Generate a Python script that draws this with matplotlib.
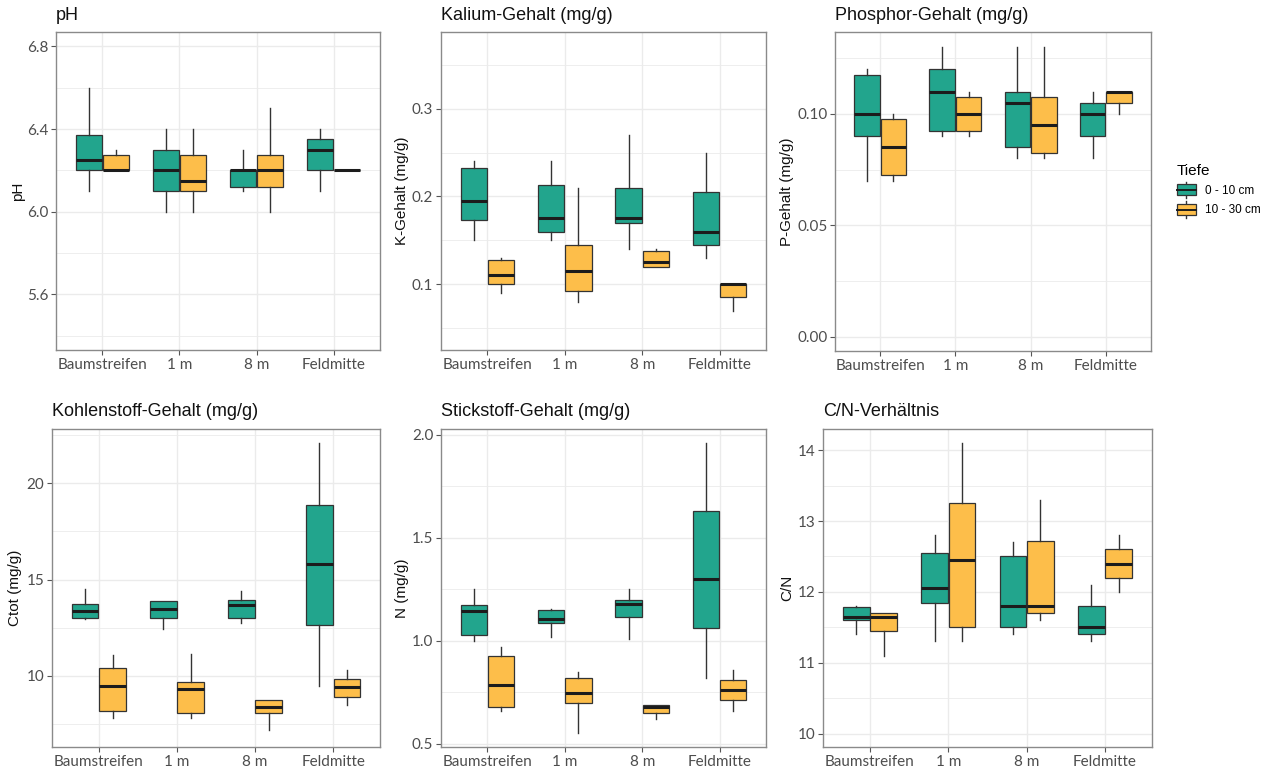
import matplotlib
matplotlib.use("Agg")
import matplotlib.pyplot as plt
from matplotlib.legend_handler import HandlerBase
from matplotlib.patches import Rectangle, Patch
from matplotlib.lines import Line2D
import numpy as np

plt.rcParams['font.family'] = ['Liberation Sans', 'DejaVu Sans']

categories = ["Baumstreifen", "1 m", "8 m", "Feldmitte"]
depths = ["0 - 10 cm", "10 - 30 cm"]
colors = ["#22A58D", "#FDBE4A"]

# each entry: (whisker low, Q1, median, Q3, whisker high)
ph_0_10 = [(6.1, 6.2, 6.25, 6.37, 6.6), (6.0, 6.1, 6.2, 6.3, 6.4),
           (6.1, 6.12, 6.2, 6.2, 6.3), (6.1, 6.2, 6.3, 6.35, 6.4)]
ph_10_30 = [(6.2, 6.2, 6.2, 6.275, 6.3), (6.0, 6.1, 6.15, 6.275, 6.4),
            (6.0, 6.12, 6.2, 6.275, 6.5), (6.2, 6.2, 6.2, 6.2, 6.2)]
k_0_10 = [(0.15, 0.173, 0.195, 0.233, 0.24), (0.15, 0.16, 0.175, 0.213, 0.24),
          (0.14, 0.17, 0.175, 0.21, 0.27), (0.13, 0.145, 0.16, 0.205, 0.25)]
k_10_30 = [(0.09, 0.1, 0.11, 0.128, 0.13), (0.08, 0.0925, 0.115, 0.145, 0.21),
           (0.12, 0.12, 0.125, 0.1375, 0.14), (0.07, 0.085, 0.1, 0.1, 0.1)]
p_0_10 = [(0.07, 0.09, 0.10, 0.1175, 0.12), (0.09, 0.0925, 0.11, 0.12, 0.13),
          (0.08, 0.085, 0.105, 0.11, 0.13), (0.08, 0.09, 0.10, 0.105, 0.11)]
p_10_30 = [(0.07, 0.0725, 0.085, 0.0975, 0.10), (0.09, 0.0925, 0.10, 0.1075, 0.11),
           (0.08, 0.0825, 0.095, 0.1075, 0.13), (0.10, 0.105, 0.11, 0.11, 0.11)]
c_0_10 = [(12.95, 13.0, 13.35, 13.75, 14.5), (12.45, 13.0, 13.45, 13.9, 13.9),
          (12.75, 13.0, 13.7, 13.95, 14.4), (9.5, 12.65, 15.8, 18.9, 22.1)]
c_10_30 = [(7.8, 8.2, 9.5, 10.4, 11.1), (7.8, 8.1, 9.3, 9.7, 11.15),
           (7.2, 8.05, 8.4, 8.75, 8.75), (8.5, 8.9, 9.4, 9.85, 10.3)]
n_0_10 = [(1.0, 1.03, 1.145, 1.175, 1.25), (1.02, 1.085, 1.105, 1.15, 1.155),
          (1.01, 1.115, 1.18, 1.2, 1.25), (0.82, 1.06, 1.3, 1.63, 1.96)]
n_10_30 = [(0.66, 0.68, 0.785, 0.925, 0.97), (0.55, 0.70, 0.745, 0.82, 0.85),
           (0.62, 0.65, 0.68, 0.69, 0.69), (0.66, 0.71, 0.76, 0.81, 0.86)]
cn_0_10 = [(11.4, 11.6, 11.65, 11.78, 11.8), (11.3, 11.85, 12.05, 12.55, 12.8),
           (11.4, 11.5, 11.8, 12.5, 12.7), (11.3, 11.4, 11.5, 11.8, 12.1)]
cn_10_30 = [(11.1, 11.45, 11.65, 11.7, 11.7), (11.3, 11.5, 12.45, 13.25, 14.1),
            (11.6, 11.7, 11.8, 12.72, 13.3), (12.0, 12.2, 12.4, 12.6, 12.8)]

titles = ["pH", "Kalium-Gehalt (mg/g)", "Phosphor-Gehalt (mg/g)",
          "Kohlenstoff-Gehalt (mg/g)", "Stickstoff-Gehalt (mg/g)", "C/N-Verhältnis"]
ylabels = ["pH", "K-Gehalt (mg/g)", "P-Gehalt (mg/g)", "Ctot (mg/g)", "N (mg/g)", "C/N"]

ph_ticks = [5.6, 6.0, 6.4, 6.8]
ph_ticklabels = ["5.6", "6.0", "6.4", "6.8"]
k_ticks = [0.1, 0.2, 0.3]
k_ticklabels = ["0.1", "0.2", "0.3"]
p_ticks = [0.0, 0.05, 0.10]
p_ticklabels = ["0.00", "0.05", "0.10"]
c_ticks = [10, 15, 20]
c_ticklabels = ["10", "15", "20"]
n_ticks = [0.5, 1.0, 1.5, 2.0]
n_ticklabels = ["0.5", "1.0", "1.5", "2.0"]
cn_ticks = [10, 11, 12, 13, 14]
cn_ticklabels = ["10", "11", "12", "13", "14"]

W, H = 1275, 771
panels = [
    dict(data=(ph_0_10, ph_10_30), ticks=ph_ticks, tl=ph_ticklabels, ylim=(5.33, 6.87),
         rect=(56, 32, 380, 350), labx=18),
    dict(data=(k_0_10, k_10_30), ticks=k_ticks, tl=k_ticklabels, ylim=(0.025, 0.3875),
         rect=(441, 32, 766, 350), labx=402),
    dict(data=(p_0_10, p_10_30), ticks=p_ticks, tl=p_ticklabels, ylim=(-0.0063, 0.1367),
         rect=(835, 32, 1151, 351), labx=787),
    dict(data=(c_0_10, c_10_30), ticks=c_ticks, tl=c_ticklabels, ylim=(6.31, 22.82),
         rect=(52, 429, 380, 747), labx=15),
    dict(data=(n_0_10, n_10_30), ticks=n_ticks, tl=n_ticklabels, ylim=(0.484, 2.029),
         rect=(441, 429, 766, 747), labx=402),
    dict(data=(cn_0_10, cn_10_30), ticks=cn_ticks, tl=cn_ticklabels, ylim=(9.81, 14.30),
         rect=(823, 429, 1152, 747), labx=787),
]

fig = plt.figure(figsize=(W / 100, H / 100), dpi=100)
fig.patch.set_facecolor("white")

offsets = [-0.175, 0.175]
xpos = np.arange(len(categories))
grid_col = "#EBEBEB"

for i, pnl in enumerate(panels):
    x0, y0, x1, y1 = pnl["rect"]
    ax = fig.add_axes([x0 / W, 1 - y1 / H, (x1 - x0) / W, (y1 - y0) / H])
    ax.set_axisbelow(True)
    for j, series in enumerate(pnl["data"]):
        stats = [dict(whislo=a, q1=b, med=c, q3=d, whishi=e, fliers=[]) for (a, b, c, d, e) in series]
        ax.bxp(stats, positions=xpos + offsets[j], widths=0.34, patch_artist=True,
               showcaps=False, showfliers=False,
               boxprops=dict(facecolor=colors[j], edgecolor="#333333", linewidth=0.9),
               medianprops=dict(color="#1c1c1c", linewidth=2.2, solid_capstyle="butt"),
               whiskerprops=dict(color="#333333", linewidth=1.0))
    ticks = pnl["ticks"]
    ax.set_yticks(ticks)
    ax.set_yticklabels(pnl["tl"])
    step = ticks[1] - ticks[0]
    minors = [t - step / 2 for t in ticks] + [ticks[-1] + step / 2]
    ax.set_yticks(minors, minor=True)
    ax.set_xticks(xpos)
    ax.set_xticklabels(categories)
    ax.set_xlim(-0.6, 3.6)
    ax.set_ylim(*pnl["ylim"])
    ax.grid(which="major", color=grid_col, linewidth=1.0)
    ax.grid(which="minor", axis="y", color=grid_col, linewidth=0.6)
    ax.tick_params(which="minor", length=0)
    ax.tick_params(which="major", length=3.5, width=0.8, color="#555555",
                   labelsize=11, labelcolor="#4D4D4D", pad=2)
    for lbl in ax.get_xticklabels() + ax.get_yticklabels():
        lbl.set_fontfamily(["Lato", "DejaVu Sans"])
    for s in ax.spines.values():
        s.set_color("#8A8A8A")
        s.set_linewidth(1.0)
    ax.set_title(titles[i], loc="left", fontsize=13, pad=9, color="#111111")
    ax.set_ylabel(ylabels[i], fontsize=11, va="center", color="#111111")
    ax.yaxis.set_label_coords((pnl["labx"] - x0) / (x1 - x0), 0.5)


class BoxKey(HandlerBase):
    def create_artists(self, legend, orig_handle, xdescent, ydescent, width, height, fontsize, trans):
        fc = orig_handle.get_facecolor()
        bx, by0 = -xdescent, -ydescent
        cx = bx + width / 2
        bh = height * 0.68
        by = by0 + (height - bh) / 2
        w1 = Line2D([cx, cx], [by0, by], color="#333333", lw=1.0, transform=trans)
        w2 = Line2D([cx, cx], [by + bh, by0 + height], color="#333333", lw=1.0, transform=trans)
        rect = Rectangle((bx, by), width, bh, facecolor=fc, edgecolor="#333333", lw=0.9, transform=trans)
        med = Line2D([bx, bx + width], [by + bh / 2] * 2, color="#1c1c1c", lw=1.4, transform=trans)
        return [w1, w2, rect, med]


handles = [Patch(facecolor=c) for c in colors]
leg = fig.legend(handles, depths, handler_map={Patch: BoxKey()}, title="Tiefe",
                 loc="upper left", bbox_to_anchor=(1177 / W, 1 - 164 / H), frameon=False,
                 fontsize=8.5, title_fontsize=11, handlelength=1.6, handleheight=1.75,
                 labelspacing=0.3, handletextpad=0.8, borderpad=0, borderaxespad=0,
                 alignment="left")

fig.savefig("out.png", dpi=100, facecolor="white")
